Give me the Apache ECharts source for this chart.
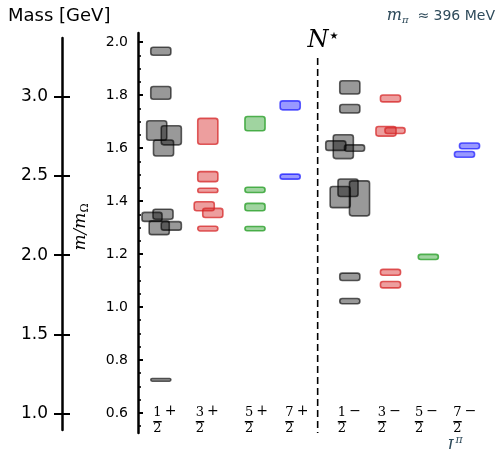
<!DOCTYPE html>
<html><head><meta charset="utf-8">
<script src="https://cdn.jsdelivr.net/npm/echarts@6/dist/echarts.min.js"></script>
<style>html,body{margin:0;padding:0;background:#fff}#c{width:497px;height:449px}</style>
</head><body><div id="c"></div>
<script>
// ---- data ----
const jNumerators = [1, 3, 5, 7, 1, 3, 5, 7];
const parities = ['+', '+', '+', '+', '\u2212', '\u2212', '\u2212', '\u2212'];
const channelX = [0.572, 1.750, 2.933, 3.815, 5.310, 6.330, 7.278, 8.248];
const labelX = [0.489, 1.554, 2.783, 3.798, 5.114, 6.117, 7.045, 8.010];
const dividerX = 4.504;
const dividerTop = 1.94;
const mOmegaGeV = 1.6725;
const ratioTicks = [0.6, 0.8, 1.0, 1.2, 1.4, 1.6, 1.8, 2.0];
const ratioMinorTicks = [0.55,0.65,0.7,0.75,0.85,0.9,0.95,1.05,1.1,1.15,1.25,1.3,1.35,1.45,1.5,1.55,1.65,1.7,1.75,1.85,1.9,1.95];
const massTicks = [1.0, 1.5, 2.0, 2.5, 3.0];
// levels per channel: [m/mOmega, half-height, horizontal shift]
const lv_1h_p = [[1.965,0.015,0],[1.808,0.024,0],[1.666,0.037,-0.103],[1.648,0.036,0.263],[1.600,0.030,0.068],[1.350,0.019,0.055],[1.340,0.017,-0.221],[1.299,0.026,-0.040],[1.306,0.016,0.263],[0.725,0.005,0]];
const lv_3h_p = [[1.663,0.049,0],[1.492,0.019,0],[1.440,0.008,0],[1.380,0.017,-0.090],[1.355,0.017,0.125],[1.296,0.009,0]];
const lv_5h_p = [[1.692,0.027,0],[1.442,0.010,0],[1.377,0.014,0],[1.296,0.008,0]];
const lv_7h_p = [[1.761,0.017,0],[1.492,0.0095,0]];
const lv_1h_m = [[1.829,0.025,0],[1.748,0.016,0],[1.605,0.045,-0.163],[1.609,0.018,-0.351],[1.600,0.012,0.118],[1.450,0.033,-0.045],[1.415,0.040,-0.241],[1.410,0.066,0.243],[1.114,0.014,0],[1.022,0.010,0]];
const lv_3h_m = [[1.787,0.013,0],[1.663,0.018,-0.113],[1.666,0.011,0.113],[1.131,0.011,0],[1.084,0.012,0]];
const lv_5h_m = [[1.189,0.0095,0]];
const lv_7h_m = [[1.608,0.011,0.063],[1.576,0.011,-0.063]];
const channels = [lv_1h_p, lv_3h_p, lv_5h_p, lv_7h_p, lv_1h_m, lv_3h_m, lv_5h_m, lv_7h_m];

// ---- style ----
const ratioMin = 0.5245, ratioMax = 2.034;
const massMin = 0.5358 * mOmegaGeV, massMax = 2.0151 * mOmegaGeV;
const boxW = 0.504;
const palette = {
  1: {fill: 'rgba(0,0,0,0.40)', stroke: 'rgba(0,0,0,0.62)'},
  3: {fill: 'rgba(214,39,40,0.45)', stroke: 'rgba(214,39,40,0.75)'},
  5: {fill: 'rgba(44,160,44,0.45)', stroke: 'rgba(44,160,44,0.80)'},
  7: {fill: 'rgba(0,0,255,0.40)', stroke: 'rgba(0,0,255,0.62)'}
};
const slate = '#2f4b5b';

const chart = echarts.init(document.getElementById('c'), null, {renderer: 'canvas'});

function boxRenderer(col) {
  return function (params, api) {
    const c = api.coord([api.value(0), api.value(1)]);
    const s = api.size([boxW, 2 * api.value(2)]);
    return {type: 'rect', shape: {x: c[0] - s[0] / 2, y: c[1] - s[1] / 2, width: s[0], height: s[1], r: 2.5},
      style: {fill: col.fill, stroke: col.stroke, lineWidth: 1.6}};
  };
}

const series = channels.map((lv, i) => ({
  type: 'custom', xAxisIndex: 0, yAxisIndex: 0,
  renderItem: boxRenderer(palette[jNumerators[i]]),
  data: lv.map(d => [channelX[i] + d[2], d[0], d[1]]),
  encode: {x: 0, y: 1}, silent: true, animation: false, clip: false
}));

series.push({
  type: 'line', xAxisIndex: 0, yAxisIndex: 0, symbol: 'none', silent: true, animation: false,
  data: [[dividerX, dividerTop], [dividerX, ratioMin]],
  lineStyle: {color: '#000', width: 1.6, type: [7, 4]}
});

series.push({
  type: 'custom', xAxisIndex: 0, yAxisIndex: 0, silent: true, animation: false, clip: false,
  data: labelX.map((x, i) => [x, jNumerators[i], i]),
  encode: {x: 0},
  renderItem: function (params, api) {
    const x = api.coord([api.value(0), ratioMin])[0];
    const bottom = params.coordSys.y + params.coordSys.height;
    const i = api.value(2);
    const font = '13px "DejaVu Serif"';
    return {type: 'group', children: [
      {type: 'text', style: {text: String(jNumerators[i]), x: x, y: bottom - 20, align: 'center', verticalAlign: 'middle', font: font, fill: '#000'}},
      {type: 'rect', shape: {x: x - 4.2, y: bottom - 12, width: 8.4, height: 1.4}, style: {fill: '#000'}},
      {type: 'text', style: {text: '2', x: x, y: bottom - 4, align: 'center', verticalAlign: 'middle', font: font, fill: '#000'}},
      {type: 'text', style: {text: parities[i], x: x + 13, y: bottom - 22, align: 'center', verticalAlign: 'middle', font: '14px "DejaVu Serif"', fill: '#000'}}
    ]};
  }
});

const option = {
  backgroundColor: '#fff',
  animation: false,
  grid: [
    {left: 138, top: 33, width: 359, height: 400},
    {left: 62, top: 38, width: 1, height: 392}
  ],
  xAxis: [
    {gridIndex: 0, type: 'value', min: 0, max: 9, show: false},
    {gridIndex: 1, type: 'value', min: 0, max: 1, show: false}
  ],
  yAxis: [
    {gridIndex: 0, type: 'value', position: 'left', min: ratioMin, max: ratioMax,
      axisLine: {show: true, lineStyle: {color: '#000', width: 2.5}},
      axisTick: {show: true, inside: true, length: 5, lineStyle: {color: '#000', width: 2}, customValues: ratioTicks},
      axisLabel: {show: true, margin: 10, customValues: ratioTicks, formatter: v => v.toFixed(1),
        color: '#000', fontSize: 14, fontFamily: 'DejaVu Sans'},
      splitLine: {show: false}},
    {gridIndex: 0, type: 'value', position: 'left', offset: 0, min: ratioMin, max: ratioMax,
      axisLine: {show: false},
      axisTick: {show: true, inside: true, length: 3, lineStyle: {color: '#000', width: 1.6}, customValues: ratioMinorTicks},
      axisLabel: {show: false}, splitLine: {show: false}},
    {gridIndex: 1, type: 'value', position: 'left', min: massMin, max: massMax,
      axisLine: {show: true, lineStyle: {color: '#000', width: 2.5}},
      axisTick: {show: true, inside: false, length: 8, lineStyle: {color: '#000', width: 2}, customValues: massTicks},
      axisLabel: {show: true, margin: 14, customValues: massTicks, formatter: v => v.toFixed(1),
        color: '#000', fontSize: 17, fontFamily: 'DejaVu Sans'},
      splitLine: {show: false}},
    {gridIndex: 1, type: 'value', position: 'left', offset: 0, min: massMin, max: massMax,
      axisLine: {show: false},
      axisTick: {show: true, inside: true, length: 8, lineStyle: {color: '#000', width: 2}, customValues: massTicks},
      axisLabel: {show: false}, splitLine: {show: false}}
  ],
  graphic: [
    {type: 'text', left: 8, top: 7, style: {text: 'Mass [GeV]', font: '18px "DejaVu Sans"', fill: '#000'}},
    {type: 'text', x: 495, y: 16, style: {
      text: '{m|m}{s|\u03c0}{t|  \u2248 396 MeV}', align: 'right', verticalAlign: 'middle',
      rich: {m: {font: 'italic 16px "DejaVu Serif"', fill: slate}, s: {font: 'italic 10px "DejaVu Serif"', fill: slate, padding: [8, 0, 0, 0]}, t: {font: '14px "DejaVu Sans"', fill: slate}}}},
    {type: 'text', x: 318, y: 41, style: {text: 'N', font: 'italic 24px "DejaVu Serif"', fill: '#000', align: 'center', verticalAlign: 'middle'}},
    {type: 'text', x: 334, y: 36, style: {text: '\u2605', font: '10px "DejaVu Sans"', fill: '#000', align: 'center', verticalAlign: 'middle'}},
    {type: 'text', x: 81, y: 227, rotation: Math.PI / 2, style: {
      text: '{m|m/m}{s|\u03a9}', align: 'center', verticalAlign: 'middle',
      rich: {m: {font: 'italic 17px "DejaVu Serif"', fill: '#000'}, s: {font: '11px "DejaVu Serif"', fill: '#000', padding: [9, 0, 0, 0]}}}},
    {type: 'text', x: 450, y: 447, style: {text: 'J', font: 'italic 16px "DejaVu Serif"', fill: slate, align: 'center', verticalAlign: 'middle'}},
    {type: 'text', x: 459, y: 440, style: {text: '\u03c0', font: 'italic 11px "DejaVu Serif"', fill: slate, align: 'center', verticalAlign: 'middle'}}
  ],
  series: series
};
chart.setOption(option);
</script>
</body></html>
